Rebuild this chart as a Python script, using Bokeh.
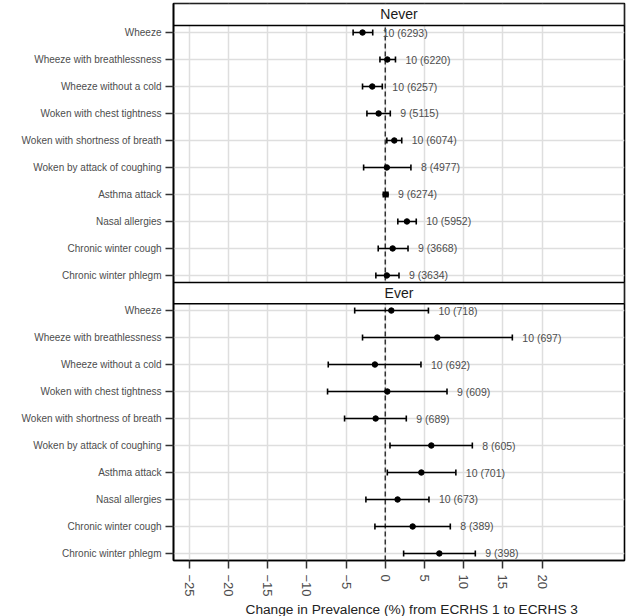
import math
from bokeh.plotting import figure
from bokeh.models import Range1d, FixedTicker, Whisker, TeeHead, ColumnDataSource, Span, Title
from bokeh.core.properties import value
from bokeh.embed import file_html
from bokeh.resources import INLINE

# ---------------- data ----------------
symptoms = ["Wheeze", "Wheeze with breathlessness", "Wheeze without a cold",
            "Woken with chest tightness", "Woken with shortness of breath",
            "Woken by attack of coughing", "Asthma attack", "Nasal allergies",
            "Chronic winter cough", "Chronic winter phlegm"]

never_est = [-2.9, 0.26, -1.66, -0.85, 1.15, 0.2, 0.05, 2.76, 0.94, 0.2]
never_lo = [-4.1, -0.68, -2.9, -2.34, 0.2, -2.76, -0.25, 1.6, -0.9, -1.2]
never_hi = [-1.6, 1.3, -0.38, 0.64, 2.1, 3.27, 0.34, 3.95, 2.9, 1.75]
never_lab = ["10 (6293)", "10 (6220)", "10 (6257)", "9 (5115)", "10 (6074)",
             "8 (4977)", "9 (6274)", "10 (5952)", "9 (3668)", "9 (3634)"]

ever_est = [0.77, 6.63, -1.32, 0.26, -1.23, 5.87, 4.6, 1.57, 3.49, 6.89]
ever_lo = [-3.9, -2.9, -7.27, -7.36, -5.19, 0.6, 0.26, -2.47, -1.32, 2.34]
ever_hi = [5.5, 16.2, 4.55, 7.87, 2.68, 11.1, 9.0, 5.57, 8.29, 11.48]
ever_lab = ["10 (718)", "10 (697)", "10 (692)", "9 (609)", "9 (689)",
            "8 (605)", "10 (701)", "10 (673)", "8 (389)", "9 (398)"]

panel_names = ["Never", "Ever"]
x_ticks = [-25, -20, -15, -10, -5, 0, 5, 10, 15, 20]
x_title = "Change in Prevalence (%) from ECRHS 1 to ECRHS 3"

# ---------------- layout (vertical units: 10 per row) ----------------
X_MIN, X_MAX = -27.0, 30.5
ROW = 10
top_rows = [ROW * (i + 1) for i in range(len(symptoms))]          # 10..100
bot_rows = [113 + ROW * i for i in range(len(symptoms))]          # 113..203
strips = [(-0.75, 7.4), (102.6, 110.5)]                           # (top, bottom)
Y_TOP, Y_BOTTOM = -0.75, 205.6

FONT = "Liberation Sans"

p = figure(width=626, height=616, output_backend="svg", toolbar_location=None,
           x_range=Range1d(X_MIN, X_MAX), y_range=Range1d(Y_BOTTOM, Y_TOP),
           min_border_left=173, min_border_right=2, min_border_top=3,
           min_border_bottom=0)
p.background_fill_color = "white"
p.border_fill_color = "white"
p.outline_line_color = "black"
p.outline_line_width = 1.6

# grids
p.xgrid.ticker = FixedTicker(ticks=x_ticks)
p.ygrid.ticker = FixedTicker(ticks=top_rows + bot_rows)
for g in (p.xgrid, p.ygrid):
    g.grid_line_color = "#dedede"
    g.grid_line_width = 1.5

# zero reference line
zero = Span(location=0, dimension="height", line_color="#333333",
            line_width=1.5, line_dash="5 3", level="underlay")
p.add_layout(zero)

# data
for rows, est, lo, hi, lab in ((top_rows, never_est, never_lo, never_hi, never_lab),
                               (bot_rows, ever_est, ever_lo, ever_hi, ever_lab)):
    src = ColumnDataSource(dict(y=rows, est=est, lo=lo, hi=hi, lab=lab))
    w = Whisker(source=src, base="y", lower="lo", upper="hi", dimension="width",
                line_color="black", line_width=1.6,
                upper_head=TeeHead(size=6, line_color="black", line_width=1.6),
                lower_head=TeeHead(size=6, line_color="black", line_width=1.6))
    p.add_layout(w)
    p.scatter(x="est", y="y", source=src, size=5.5, color="black")
    p.text(x="hi", y="y", text="lab", source=src, x_offset=10,
           text_baseline="middle", text_align="left", text_font_size="10.5px",
           text_color="#4d4d4d", text_font=value(FONT))

# strips
strip_src = ColumnDataSource(dict(
    top=[s[0] for s in strips], bottom=[s[1] for s in strips],
    mid=[(s[0] + s[1]) / 2 for s in strips], name=panel_names))
p.quad(left=X_MIN, right=X_MAX, top="top", bottom="bottom", source=strip_src,
       fill_color="white", line_color="black", line_width=1.6)
p.text(x=(X_MIN + X_MAX) / 2, y="mid", text="name", source=strip_src,
       text_align="center", text_baseline="middle", text_font_size="14px",
       text_color="#1a1a1a", text_font=value(FONT))

# axes
p.xaxis.ticker = FixedTicker(ticks=x_ticks)
p.xaxis.major_label_overrides = {t: str(t).replace("-", "\u2212") for t in x_ticks}
p.xaxis.major_label_orientation = -math.pi / 2

p.yaxis.ticker = FixedTicker(ticks=top_rows + bot_rows)
overrides = {}
for rows in (top_rows, bot_rows):
    for r, s in zip(rows, symptoms):
        overrides[r] = s
p.yaxis.major_label_overrides = overrides

for ax in (p.xaxis, p.yaxis):
    ax.axis_line_color = "black"
    ax.axis_line_width = 1.6
    ax.major_tick_line_color = "#333333"
    ax.major_tick_line_width = 1.5
    ax.major_tick_out = 8
    ax.major_tick_in = 0
    ax.minor_tick_line_color = None
    ax.major_label_text_font = FONT
    ax.major_label_text_color = "#4d4d4d"
p.xaxis.major_label_text_font_size = "13px"
p.xaxis.major_label_standoff = 6
p.yaxis.major_label_text_font_size = "10px"
p.yaxis.major_label_standoff = 4

title = Title(text=x_title, align="left", offset=72, standoff=0,
              text_font=FONT, text_font_style="normal", text_font_size="13.7px",
              text_color="#222222")
p.add_layout(title, "below")

open("out.html", "w").write(file_html(p, INLINE))
